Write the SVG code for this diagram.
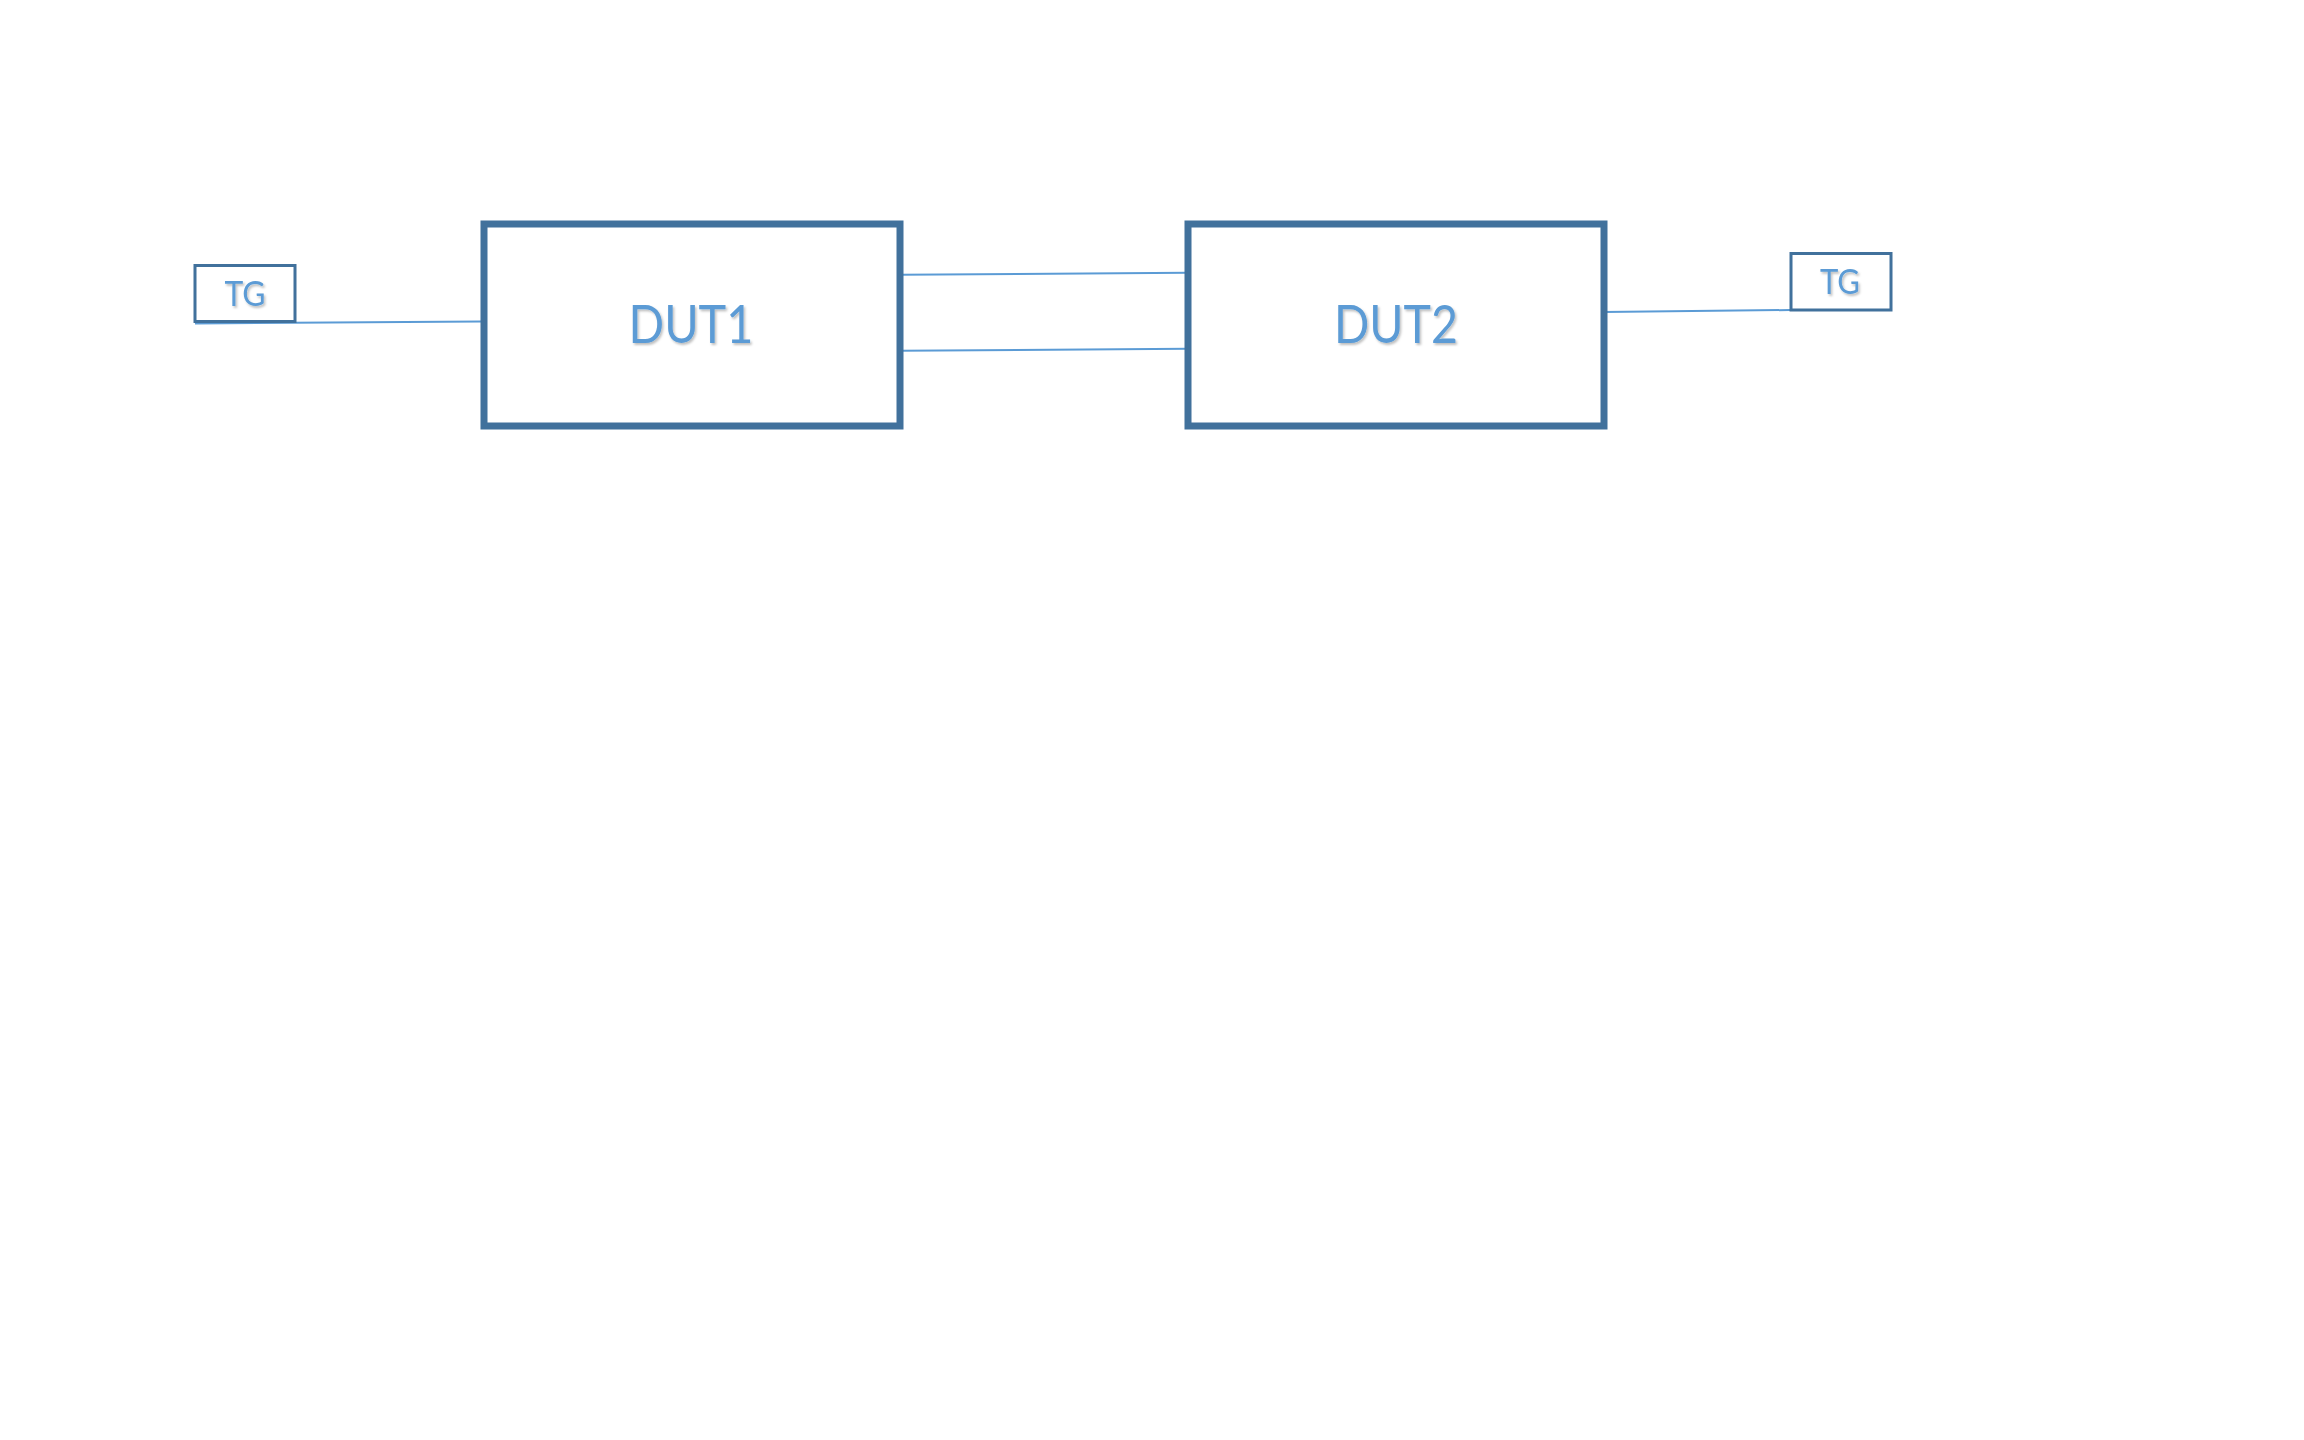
<svg xmlns="http://www.w3.org/2000/svg" width="2304" height="1440" viewBox="0 0 2304 1440">
  <style>
    .big { fill: none; stroke: #41719C; stroke-width: 7; }
    .small { fill: none; stroke: #41719C; stroke-width: 3; }
    .wire { fill: none; stroke: #5B9BD5; stroke-width: 2; }
    .lbl { fill: #5B9BD5; font-family: Lato, "Open Sans", sans-serif; text-anchor: middle; filter: url(#sh); }
  </style>
  <defs>
    <filter id="sh" x="-10%" y="-20%" width="130%" height="150%">
      <feDropShadow dx="1.5" dy="2" stdDeviation="1.2" flood-color="#000" flood-opacity="0.25"/>
    </filter>
  </defs>
  <rect width="2304" height="1440" fill="#fff"/>
  <g id="connectors">
    <line class="wire" x1="195" y1="323.5" x2="481" y2="321.5"/>
    <line class="wire" x1="900" y1="274.7" x2="1188" y2="272.7"/>
    <line class="wire" x1="900" y1="350.7" x2="1188" y2="348.7"/>
    <line class="wire" x1="1604" y1="312" x2="1790" y2="310"/>
  </g>
  <g id="tg1">
    <rect class="small" x="195" y="265.5" width="100" height="56"/>
    <text class="lbl" x="245" y="306" font-size="34" textLength="41" lengthAdjust="spacingAndGlyphs">TG</text>
  </g>
  <g id="dut1">
    <rect class="big" x="484" y="224" width="416" height="202"/>
    <text class="lbl" x="691" y="343" font-size="52" textLength="125" lengthAdjust="spacingAndGlyphs">DUT1</text>
  </g>
  <g id="dut2">
    <rect class="big" x="1188" y="224" width="416" height="202"/>
    <text class="lbl" x="1396" y="343" font-size="52" textLength="124" lengthAdjust="spacingAndGlyphs">DUT2</text>
  </g>
  <g id="tg2">
    <rect class="small" x="1791" y="253.5" width="100" height="56.5"/>
    <text class="lbl" x="1840" y="294" font-size="34" textLength="40" lengthAdjust="spacingAndGlyphs">TG</text>
  </g>
</svg>
